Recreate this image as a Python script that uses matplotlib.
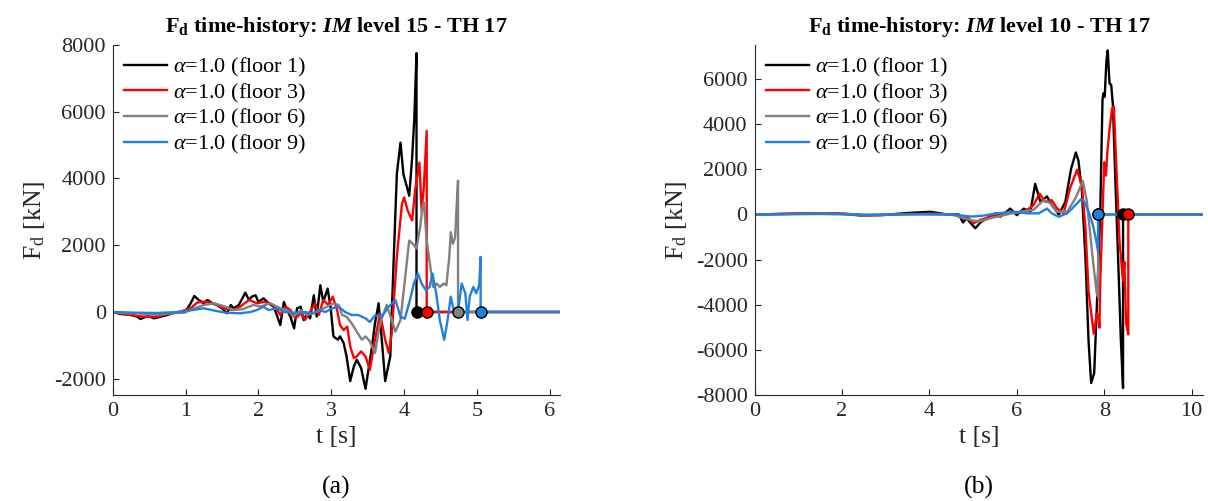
import matplotlib
matplotlib.use("Agg")
import matplotlib.pyplot as plt
import numpy as np

# ---------------- data ----------------
labels = [r"$\alpha$=1.0 (floor 1)", r"$\alpha$=1.0 (floor 3)",
          r"$\alpha$=1.0 (floor 6)", r"$\alpha$=1.0 (floor 9)"]
colors = ["#000000", "#ff0000", "#808080", "#1f80e0"]

# panel (a): IM level 15 - TH 17
a_t1 = [0.00, 0.11, 0.25, 0.34, 0.38, 0.48, 0.57, 0.66, 0.75, 0.84, 0.95, 1.02, 1.07, 1.12, 1.18,
        1.25, 1.30, 1.37, 1.43, 1.50, 1.57, 1.62, 1.66, 1.73, 1.78, 1.82, 1.87, 1.91, 1.96, 2.00,
        2.07, 2.14, 2.21, 2.26, 2.30, 2.35, 2.39, 2.44, 2.49, 2.53, 2.58, 2.62, 2.67, 2.71, 2.76,
        2.80, 2.85, 2.89, 2.95, 2.99, 3.03, 3.09, 3.12, 3.17, 3.21, 3.26, 3.31, 3.35, 3.41, 3.47,
        3.51, 3.56, 3.60, 3.65, 3.70, 3.74, 3.81, 3.85, 3.90, 3.95, 3.99, 4.04, 4.07, 4.11, 4.14,
        4.17, 4.17, 6.14]
a_F1 = [0, -60, -90, -140, -210, -120, -190, -140, -90, -20, 10, 80, 260, 480, 360,
        260, 360, 260, 210, 110, -40, 210, 110, 210, 410, 580, 360, 460, 500, 300,
        410, 260, 160, -140, -390, 300, 60, -140, -490, 110, 160, -240, -40, -190, 500,
        -140, 800, 300, 700, 160, -730, -830, -730, -930, -1330, -2070, -1630, -1430, -1680, -2300,
        -1730, -1030, -340, 260, -1000, -2070, -1330, 1160, 4130, 5070, 4130, 3730, 3480, 4620, 5810,
        7750, 0, 0]

a_t3 = [0.00, 0.10, 0.25, 0.43, 0.61, 0.75, 0.93, 1.07, 1.16, 1.25, 1.39, 1.52, 1.66, 1.75, 1.87,
        1.98, 2.07, 2.16, 2.23, 2.30, 2.37, 2.44, 2.51, 2.58, 2.64, 2.71, 2.78, 2.83, 2.89, 2.96,
        3.02, 3.08, 3.12, 3.17, 3.22, 3.26, 3.31, 3.35, 3.41, 3.47, 3.53, 3.60, 3.67, 3.74, 3.79,
        3.83, 3.90, 3.97, 4.00, 4.05, 4.11, 4.15, 4.21, 4.24, 4.27, 4.31, 4.31, 6.14]
a_F3 = [0, -40, -90, -140, -140, -60, 10, 110, 280, 310, 260, 110, 60, 160, 360,
        260, 300, 260, 160, -90, 160, 60, -190, -40, -240, 10, 260, -90, 360, 210,
        460, 60, -390, -540, -440, -1030, -1380, -1330, -1180, -1330, -1730, -830, -40, -830, -1230,
        -630, 1650, 3230, 3430, 3030, 2740, 3630, 4470, 3030, 3730, 5420, 0, 0]

a_t6 = [0.00, 0.15, 0.36, 0.57, 0.80, 0.99, 1.07, 1.25, 1.39, 1.52, 1.66, 1.78, 1.93, 2.03, 2.16,
        2.30, 2.39, 2.48, 2.58, 2.67, 2.76, 2.85, 2.94, 3.03, 3.10, 3.15, 3.21, 3.28, 3.35, 3.42,
        3.47, 3.53, 3.60, 3.67, 3.76, 3.83, 3.88, 3.95, 4.01, 4.07, 4.12, 4.17, 4.22, 4.25, 4.27,
        4.31, 4.36, 4.40, 4.45, 4.49, 4.54, 4.58, 4.62, 4.64, 4.67, 4.70, 4.72, 4.74, 4.74, 6.14]
a_F6 = [0, -30, -40, -90, -40, -20, 60, 210, 260, 180, 60, 80, 210, 160, 260,
        110, 60, -140, 60, -90, -40, 60, 160, 260, 210, -90, -140, -340, -590, -830,
        -730, -880, -1230, -340, 210, -240, -590, -240, 950, 2140, 2040, 1900, 2540, 3130, 3280,
        2140, 1350, 750, 850, 750, 850, 800, 1650, 2390, 2040, 2240, 3130, 3930, 0, 0]

a_t9 = [0.00, 0.30, 0.60, 0.90, 1.10, 1.25, 1.40, 1.55, 1.75, 1.89, 1.98, 2.07, 2.14, 2.26, 2.35,
        2.44, 2.55, 2.64, 2.74, 2.83, 2.92, 3.01, 3.10, 3.19, 3.28, 3.37, 3.47, 3.53, 3.60, 3.69,
        3.79, 3.88, 3.95, 4.01, 4.08, 4.14, 4.19, 4.24, 4.30, 4.35, 4.39, 4.44, 4.49, 4.55, 4.59,
        4.64, 4.68, 4.73, 4.79, 4.84, 4.87, 4.90, 4.95, 4.99, 5.03, 5.05, 5.05, 6.14]
a_F9 = [0, -20, -30, 0, 60, 110, 40, -20, -40, 0, 60, 160, 60, 110, 0,
        0, -40, 0, -40, 60, 0, 110, 160, 0, -90, -90, -190, -300, -100, -140,
        160, 360, -140, -200, 360, 900, 1150, 850, 650, 750, 1150, 560, -240, -830, -340,
        460, 60, -140, 850, 560, -240, 460, 750, 560, 800, 1650, 0, 0]

a_end = [4.17, 4.31, 4.74, 5.05]

# panel (b): IM level 10 - TH 17
b_t1 = [0.00, 1.20, 1.95, 2.40, 2.90, 3.45, 4.02, 4.40, 4.67, 4.77, 4.85, 4.95, 5.05, 5.17, 5.32,
        5.51, 5.62, 5.85, 6.00, 6.16, 6.31, 6.42, 6.54, 6.69, 6.80, 6.96, 7.11, 7.24, 7.35, 7.41,
        7.49, 7.57, 7.64, 7.70, 7.77, 7.83, 7.91, 7.96, 7.98, 8.01, 8.05, 8.08, 8.12, 8.16, 8.20,
        8.25, 8.33, 8.38, 8.43, 8.43, 10.26]
b_F1 = [0, 40, 40, -40, -30, 60, 120, 0, 0, -350, -170, -390, -610, -350, -170,
        50, -100, 260, -30, 260, 120, 1350, 560, 800, 420, 0, 560, 2010, 2740, 2380,
        990, -1920, -5560, -7450, -7010, -4100, 260, 5070, 5350, 5200, 6810, 7250, 5800, 5720, 4780,
        1720, -2650, -5560, -7670, 0, 0]

b_t3 = [0.00, 1.20, 2.00, 2.50, 3.00, 4.00, 4.60, 4.77, 4.86, 5.01, 5.17, 5.39, 5.62, 5.81, 6.00,
        6.23, 6.38, 6.52, 6.65, 6.80, 6.92, 7.07, 7.22, 7.38, 7.49, 7.57, 7.64, 7.76, 7.83, 7.87,
        7.89, 7.91, 7.96, 8.00, 8.04, 8.07, 8.12, 8.18, 8.22, 8.27, 8.35, 8.43, 8.46, 8.50, 8.55,
        8.55, 10.26]
b_F3 = [0, 60, 50, -30, -20, 40, 0, -170, -100, -390, -240, -100, 0, 120, 50,
        200, 410, 920, 560, 630, 270, 50, 1170, 1980, 1250, -610, -3380, -5270, -4390, -4540,
        -5000, -2900, 0, 2300, 1720, 2740, 3760, 4700, 4780, 2450, -1190, -2940, -2100, -4830, -5300,
        0, 0]

b_t6 = [0.00, 1.30, 2.00, 2.60, 3.50, 4.50, 4.94, 5.13, 5.39, 5.77, 6.08, 6.38, 6.61, 6.77, 6.92,
        7.15, 7.34, 7.51, 7.60, 7.68, 7.76, 7.83, 7.86, 7.86, 10.26]
b_F6 = [0, 40, 30, -30, 20, 0, -240, -320, -170, 0, 120, 200, 630, 490, 120,
        120, 710, 1480, 620, -900, -2360, -3520, -3660, 0, 0]

b_t9 = [0.00, 1.50, 2.50, 3.50, 4.50, 4.95, 5.20, 5.55, 5.93, 6.23, 6.50, 6.69, 6.80, 6.96, 7.15,
        7.34, 7.47, 7.55, 7.64, 7.74, 7.82, 7.86, 7.86, 10.26]
b_F9 = [0, 20, -10, 10, 0, -90, -60, 50, 120, 50, 50, 260, 50, -100, 50,
        410, 680, 550, 130, -460, -1190, -1630, 0, 0]

b_end = [8.43, 8.55, 7.86, 7.86]

xticks_a = [0, 1, 2, 3, 4, 5, 6]
yticks_a = [-2000, 0, 2000, 4000, 6000, 8000]
xticks_b = [0, 2, 4, 6, 8, 10]
yticks_b = [-8000, -6000, -4000, -2000, 0, 2000, 4000, 6000]

# ---------------- style ----------------
plt.rcParams["font.family"] = ["Liberation Serif", "DejaVu Serif"]
plt.rcParams["axes.unicode_minus"] = False
plt.rcParams["mathtext.fontset"] = "custom"
plt.rcParams["mathtext.rm"] = "Liberation Serif"
plt.rcParams["mathtext.it"] = "Liberation Serif:italic"
plt.rcParams["mathtext.bf"] = "Liberation Serif:bold"
try:
    plt.rcParams["mathtext.bfit"] = "Liberation Serif:bold:italic"
except KeyError:
    pass

axis_col = "#262626"
fs_tick = 16
fs_label = 18.5

fig = plt.figure(figsize=(12.08, 5.01), dpi=100)
axA = fig.add_axes([0.0933, 0.2106, 0.3703, 0.700])
axB = fig.add_axes([0.6246, 0.2106, 0.3713, 0.700])


def draw(ax, series, ends, xlim, ylim, xticks, yticks, title, panel):
    for (t, F), c, lab in zip(series, colors, labels):
        ax.plot(t, F, color=c, lw=1.7, label=lab, solid_joinstyle="round")
    for e, c in zip(ends, colors):
        ax.plot([e], [0], "o", ms=8, mfc=c, mec="k", mew=1.0, zorder=5)
    ax.set_xlim(*xlim)
    ax.set_ylim(*ylim)
    ax.set_xticks(xticks)
    ax.set_yticks(yticks)
    ax.tick_params(direction="in", length=4, width=0.8, colors=axis_col,
                   labelsize=fs_tick, pad=5)
    for s in ["top", "right"]:
        ax.spines[s].set_visible(False)
    for s in ["left", "bottom"]:
        ax.spines[s].set_color(axis_col)
        ax.spines[s].set_linewidth(0.8)
    ax.set_xlabel("t [s]", fontsize=fs_label, color=axis_col, labelpad=3)
    ax.set_ylabel(r"F$_\mathrm{d}$ [kN]", fontsize=fs_label, color=axis_col, labelpad=5)
    ax.set_title(title, fontsize=16, fontweight="bold", pad=9)
    ax.legend(loc="upper left", frameon=False, fontsize=fs_tick, handlelength=1.95,
              handletextpad=0.25, labelspacing=0.12, borderaxespad=0.1,
              bbox_to_anchor=(0.0, 1.0))
    ax.text(0.5, -0.263, panel, transform=ax.transAxes, ha="center", va="center",
            fontsize=fs_label)


draw(axA, [(a_t1, a_F1), (a_t3, a_F3), (a_t6, a_F6), (a_t9, a_F9)], a_end,
     (0, 6.14), (-2500, 8000), xticks_a, yticks_a,
     r"$\mathbf{F_d}$ time-history: $\mathbfit{IM}$ level 15 - TH 17", "(a)")
draw(axB, [(b_t1, b_F1), (b_t3, b_F3), (b_t6, b_F6), (b_t9, b_F9)], b_end,
     (0, 10.26), (-8000, 7500), xticks_b, yticks_b,
     r"$\mathbf{F_d}$ time-history: $\mathbfit{IM}$ level 10 - TH 17", "(b)")

fig.savefig("out.png", dpi=100)
